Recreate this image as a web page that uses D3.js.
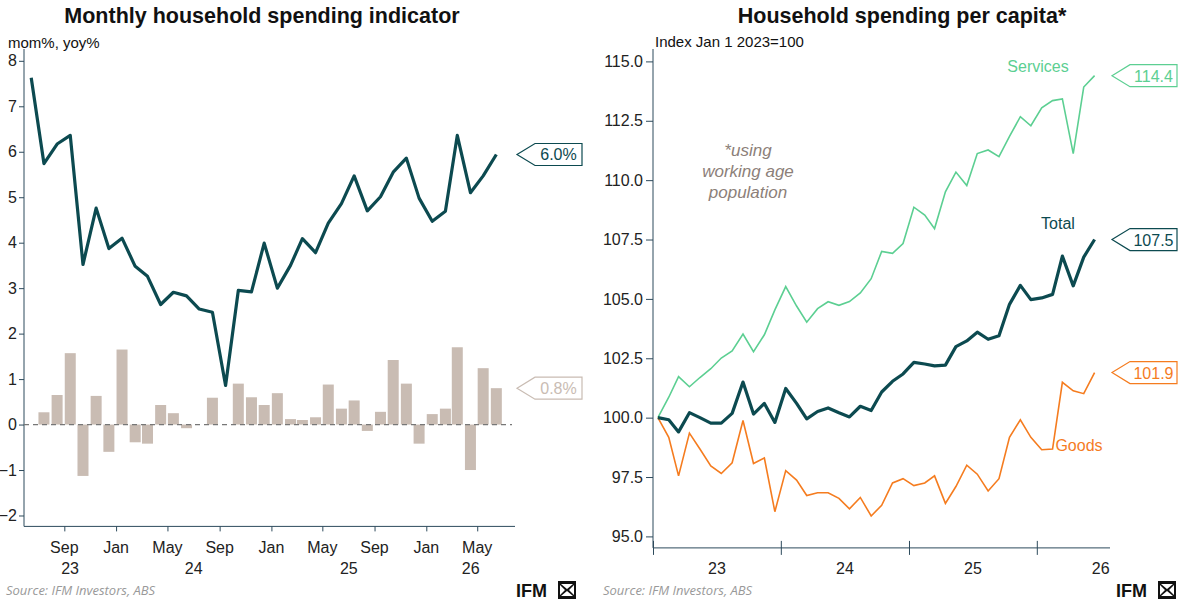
<!DOCTYPE html>
<html><head><meta charset="utf-8">
<script src="https://cdnjs.cloudflare.com/ajax/libs/d3/7.8.5/d3.min.js"></script>
<style>body{margin:0;background:#fff}svg{font-family:"Liberation Sans",Arial,sans-serif}</style>
</head><body><svg id="c" width="1181" height="606"></svg>
<script>
// ---- Left chart data (monthly, starting Jun 2023) ----
const leftStart = [2023, 5];
const yoy = [7.63,5.74,6.17,6.36,3.52,4.76,3.87,4.10,3.48,3.26,2.64,2.91,2.83,2.54,2.47,0.86,2.95,2.92,3.99,3.00,3.50,
  4.09,3.78,4.43,4.86,5.47,4.70,5.01,5.55,5.86,4.98,4.47,4.69,6.36,5.10,5.47,5.94];
const mom = [null,0.27,0.65,1.57,-1.13,0.63,-0.60,1.65,-0.39,-0.42,0.43,0.25,-0.08,0,0.59,0,0.90,0.60,0.43,0.69,0.12,
  0.10,0.16,0.88,0.35,0.53,-0.14,0.28,1.42,0.90,-0.42,0.23,0.35,1.70,-1.00,1.24,0.80];
const leftTicks = [[2023,8],[2024,0],[2024,4],[2024,8],[2025,0],[2025,4],[2025,8],[2026,0],[2026,4]];
const leftYears = [2023,2024,2025,2026];
const leftYTicks = [-2,-1,0,1,2,3,4,5,6,7,8];
// ---- Right chart data (monthly, starting Jan 2023) ----
const rightStart = [2023, 0];
const services = [100,100.86,101.73,101.30,101.69,102.06,102.51,102.81,103.52,102.78,103.49,104.54,105.52,104.70,104.02,104.59,104.88,104.73,104.89,105.25,105.85,107.00,106.92,
  107.33,108.86,108.53,107.96,109.51,110.34,109.77,111.12,111.27,110.99,111.84,112.67,112.29,113.05,113.35,113.42,111.12,113.92,114.4];
const total = [100,99.91,99.40,100.21,100.00,99.77,99.77,100.18,101.50,100.15,100.60,99.80,101.23,100.60,99.95,100.26,100.41,100.21,100.03,100.48,100.30,101.08,101.53,
  101.84,102.33,102.26,102.18,102.21,102.99,103.23,103.60,103.30,103.45,104.77,105.57,104.97,105.04,105.19,106.80,105.55,106.76,107.5];
const goods = [100,99.17,97.55,99.35,98.68,97.97,97.65,98.10,99.88,98.07,98.30,96.04,97.77,97.37,96.72,96.84,96.84,96.60,96.16,96.64,95.86,96.31,97.25,
  97.43,97.14,97.25,97.55,96.39,97.10,98.00,97.62,96.91,97.43,99.17,99.91,99.17,98.65,98.68,101.49,101.13,101.01,101.9];
const rightYTicks = [95,97.5,100,102.5,105,107.5,110,112.5,115];
const rightYears = [2023,2024,2025,2026];
const monthNames = ["Jan","Feb","Mar","Apr","May","Jun","Jul","Aug","Sep","Oct","Nov","Dec"];

const DARK="#0c4a50", BAR="#c9bcb3", SERV="#5ccf92", GOOD="#f57c1f", AX="#2d4a5c";
const svg=d3.select("#c");
const mid=(s,i)=>new Date(s[0], s[1]+i, 15);

function callout(x,y,text,color,w){
  const g=svg.append("g");
  g.append("path").attr("d",`M${x},${y} L${x+18},${y-11} L${x+18+w},${y-11} L${x+18+w},${y+11} L${x+18},${y+11} Z`)
   .attr("fill","#fff").attr("stroke",color).attr("stroke-width",1.2);
  g.append("text").attr("x",x+18+w/2).attr("y",y+6).attr("text-anchor","middle").attr("fill",color).attr("font-size",16).text(text);
}
function logo(x,y){
  svg.append("text").attr("x",x).attr("y",y).attr("font-size",18).attr("font-weight","bold").attr("fill","#111").text("IFM");
  const g=svg.append("g").attr("transform",`translate(${x+42},${y-16})`).attr("fill","#111");
  g.append("path").attr("d","M0,0 L18,0 L18,18 L0,18 Z M3,3 L9,8 L15,3 Z M3,15 L9,10 L15,15 Z M2,4 L7,9 L2,14 Z M16,4 L11,9 L16,14 Z").attr("fill-rule","evenodd");
}
function yearLabels(x, years, y, clip){
  const [d0,d1]=x.domain();
  years.forEach(t=>{
    let a=+new Date(t,0,1), b=+new Date(t+1,0,1);
    if(clip){a=Math.max(+d0,a); b=Math.min(+d1,b);}
    svg.append("text").attr("x",(x(a)+x(b))/2).attr("y",y).attr("text-anchor","middle").attr("font-size",16).attr("fill","#222").text(String(t).slice(2));
  });
}

// ===== Left =====
{
  const x=d3.scaleTime().domain([new Date(2023,4,29),new Date(2026,6,29)]).range([24,515]);
  const y=d3.scaleLinear().domain([-2.24,8.26]).range([526.4,49]);
  svg.append("text").attr("x",262).attr("y",23).attr("text-anchor","middle").attr("font-size",21.5).attr("font-weight","bold").attr("fill","#111").text("Monthly household spending indicator");
  svg.append("text").attr("x",8).attr("y",48).attr("font-size",15).attr("fill","#111").text("mom%, yoy%");
  const ya=svg.append("g").attr("transform","translate(24,0)").call(d3.axisLeft(y).tickValues(leftYTicks).tickSize(5).tickPadding(2).tickFormat(d3.format("d")));
  ya.selectAll("text").attr("font-size",16).attr("fill","#222").attr("font-family","Liberation Sans");
  ya.selectAll("line,path").attr("stroke",AX);
  ya.select(".domain").attr("d","M0,49V526.4");
  const xa=svg.append("g").attr("transform","translate(0,526.4)").call(d3.axisBottom(x).tickValues(leftTicks.map(t=>new Date(t[0],t[1],1))).tickSize(5).tickFormat(""));
  xa.selectAll("line,path").attr("stroke",AX);
  xa.select(".domain").attr("d","M24,0H515");
  leftTicks.forEach(t=>{const xx=x(new Date(t[0],t[1],1));
    svg.append("text").attr("x",xx).attr("y",553).attr("text-anchor","middle").attr("font-size",16).attr("fill","#222").text(monthNames[t[1]]);});
  yearLabels(x,leftYears,574,true);
  const bw=11;
  svg.append("g").selectAll("rect").data(mom.map((v,i)=>({v,i})).filter(d=>d.v!==null)).join("rect")
    .attr("x",d=>x(mid(leftStart,d.i))-bw/2).attr("width",bw)
    .attr("y",d=>y(Math.max(0,d.v))).attr("height",d=>Math.abs(y(d.v)-y(0))).attr("fill",BAR);
  svg.append("line").attr("x1",24).attr("x2",512).attr("y1",y(0)).attr("y2",y(0)).attr("stroke","#777").attr("stroke-dasharray","5,4").attr("stroke-width",1.3);
  svg.append("path").datum(yoy).attr("fill","none").attr("stroke",DARK).attr("stroke-width",3.2).attr("stroke-linejoin","round")
    .attr("d",d3.line().x((d,i)=>x(mid(leftStart,i))).y(d=>y(d)));
  callout(517,y(yoy[yoy.length-1]),"6.0%",DARK,47);
  callout(517,y(mom[mom.length-1]),"0.8%",BAR,47);
  svg.append("text").attr("x",6).attr("y",595).attr("font-size",13).attr("font-style","italic").attr("fill","#999").attr("font-family","Open Sans").text("Source: IFM Investors, ABS");
  logo(516,597);
}
// ===== Right =====
{
  const x=d3.scaleTime().domain([new Date(2023,0,1),new Date(2026,6,29)]).range([653,1110]);
  const y=d3.scaleLinear().domain([95,115]).range([536.4,61.4]);
  svg.append("text").attr("x",902).attr("y",23).attr("text-anchor","middle").attr("font-size",21.5).attr("font-weight","bold").attr("fill","#111").text("Household spending per capita*");
  svg.append("text").attr("x",655).attr("y",47).attr("font-size",15).attr("fill","#111").text("Index Jan 1 2023=100");
  const ya=svg.append("g").attr("transform","translate(653,0)").call(d3.axisLeft(y).tickValues(rightYTicks).tickSize(7).tickFormat(d3.format(".1f")));
  ya.selectAll("text").attr("font-size",16).attr("fill","#222").attr("font-family","Liberation Sans");
  ya.selectAll("line,path").attr("stroke",AX);
  ya.select(".domain").attr("d","M0,49V547.9");
  const xa=svg.append("g").attr("transform","translate(0,547.9)").call(d3.axisBottom(x).tickValues(rightYears.map(t=>new Date(t,0,1))).tickSize(-7).tickFormat(""));
  xa.selectAll("line").attr("y2",7).attr("y1",-7).attr("stroke",AX);
  xa.selectAll("path").attr("stroke",AX);
  xa.select(".domain").attr("d","M653,0H1110");
  yearLabels(x,rightYears,574,false);
  const line=d3.line().x((d,i)=>x(mid(rightStart,i))).y(d=>y(d));
  svg.append("path").datum(services).attr("fill","none").attr("stroke",SERV).attr("stroke-width",1.6).attr("d",line);
  svg.append("path").datum(goods).attr("fill","none").attr("stroke",GOOD).attr("stroke-width",1.6).attr("d",line);
  svg.append("path").datum(total).attr("fill","none").attr("stroke",DARK).attr("stroke-width",3.2).attr("stroke-linejoin","round").attr("d",line);
  svg.append("text").attr("x",1038).attr("y",72).attr("text-anchor","middle").attr("font-size",16).attr("fill",SERV).text("Services");
  svg.append("text").attr("x",1058).attr("y",229).attr("text-anchor","middle").attr("font-size",16).attr("fill",DARK).text("Total");
  svg.append("text").attr("x",1079).attr("y",451).attr("text-anchor","middle").attr("font-size",16).attr("fill",GOOD).text("Goods");
  callout(1112,y(services[services.length-1]),"114.4",SERV,47);
  callout(1112,y(total[total.length-1]),"107.5",DARK,47);
  callout(1112,y(goods[goods.length-1]),"101.9",GOOD,47);
  [["*using",156],["working age",177],["population",198]].forEach(a=>
    svg.append("text").attr("x",748).attr("y",a[1]).attr("text-anchor","middle").attr("font-size",17).attr("font-style","italic").attr("fill","#8c8079").text(a[0]));
  svg.append("text").attr("x",603).attr("y",595).attr("font-size",13).attr("font-style","italic").attr("fill","#999").attr("font-family","Open Sans").text("Source: IFM Investors, ABS");
  logo(1116,597);
}
</script></body></html>
